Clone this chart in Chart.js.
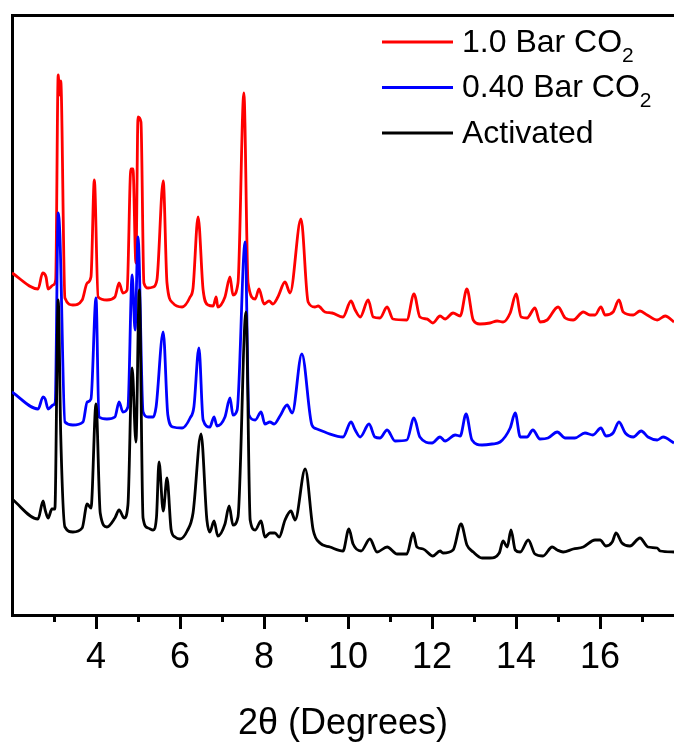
<!DOCTYPE html>
<html>
<head>
<meta charset="utf-8">
<script src="https://cdn.jsdelivr.net/npm/chart.js@4"></script>
<style>
  html, body { margin: 0; padding: 0; background: #fff; overflow: hidden; }
  canvas { display: block; }
</style>
</head>
<body>
<canvas id="xrd" width="674" height="751"></canvas>
<script>
// --- Data (2θ in degrees, intensity in arbitrary units) ---
const twoThetaHigh = [2.00, 2.62, 2.73, 2.81, 2.86, 2.98, 3.04, 3.10, 3.13, 3.16, 3.26, 3.45, 3.67, 3.79, 3.88, 3.96, 4.05, 4.26, 4.45, 4.55, 4.64, 4.74, 4.83, 4.88, 4.95, 5.00, 5.07, 5.14, 5.24, 5.36, 5.45, 5.60, 5.69, 5.83, 6.05, 6.24, 6.31, 6.43, 6.55, 6.67, 6.79, 6.86, 6.90, 7.07, 7.19, 7.26, 7.38, 7.52, 7.62, 7.79, 7.88, 8.00, 8.12, 8.21, 8.33, 8.50, 8.62, 8.88, 9.05, 9.21, 9.29, 9.45, 9.62, 9.88, 10.07, 10.17, 10.29, 10.48, 10.60, 10.76, 10.93, 11.07, 11.40, 11.57, 11.71, 11.88, 12.02, 12.19, 12.31, 12.50, 12.67, 12.83, 12.98, 13.14, 13.38, 13.55, 13.69, 13.86, 14.00, 14.12, 14.26, 14.45, 14.57, 14.74, 15.00, 15.17, 15.36, 15.60, 15.76, 15.88, 16.02, 16.12, 16.31, 16.45, 16.55, 16.79, 16.95, 17.12, 17.36, 17.55, 17.76];
const intensityHigh = [342, 326, 342, 338, 326, 330, 335, 540, 520, 534, 317, 310, 315, 332, 338, 435, 318, 315, 318, 332, 322, 325, 446, 446, 352, 498, 493, 332, 327, 328, 335, 434, 332, 312, 308, 318, 327, 398, 325, 310, 309, 318, 308, 318, 338, 320, 332, 522, 332, 316, 326, 311, 314, 311, 318, 333, 322, 396, 313, 308, 309, 303, 302, 298, 314, 305, 298, 315, 298, 297, 308, 296, 295, 321, 298, 296, 292, 299, 296, 302, 299, 326, 295, 291, 292, 294, 293, 302, 321, 298, 297, 307, 293, 295, 308, 297, 295, 303, 300, 300, 308, 300, 303, 315, 303, 300, 304, 300, 295, 299, 293];

const twoThetaLow = [2.00, 2.62, 2.74, 2.79, 2.86, 2.98, 3.03, 3.10, 3.14, 3.26, 3.45, 3.69, 3.79, 3.88, 4.00, 4.07, 4.26, 4.45, 4.55, 4.64, 4.76, 4.86, 4.93, 5.00, 5.12, 5.24, 5.36, 5.43, 5.60, 5.71, 5.83, 6.05, 6.24, 6.33, 6.45, 6.55, 6.71, 6.81, 6.88, 7.07, 7.19, 7.26, 7.36, 7.55, 7.64, 7.79, 7.93, 8.02, 8.14, 8.24, 8.38, 8.55, 8.67, 8.90, 9.14, 9.26, 9.50, 9.88, 10.07, 10.17, 10.29, 10.50, 10.64, 10.76, 10.93, 11.12, 11.40, 11.57, 11.71, 12.00, 12.19, 12.31, 12.55, 12.67, 12.81, 12.95, 13.19, 13.43, 13.62, 13.86, 13.98, 14.10, 14.26, 14.40, 14.57, 14.76, 14.98, 15.17, 15.40, 15.64, 15.83, 16.02, 16.14, 16.31, 16.45, 16.60, 16.79, 16.98, 17.14, 17.36, 17.50, 17.76];
const intensityLow = [223, 206, 218, 216, 206, 210, 213, 402, 380, 193, 190, 193, 213, 216, 317, 198, 196, 198, 213, 203, 208, 340, 285, 378, 203, 198, 198, 208, 283, 200, 188, 187, 197, 208, 267, 195, 188, 198, 189, 198, 217, 200, 205, 373, 200, 195, 203, 191, 193, 191, 199, 210, 202, 261, 190, 186, 182, 178, 193, 185, 178, 191, 178, 177, 185, 174, 175, 197, 178, 172, 178, 174, 180, 179, 201, 175, 170, 171, 173, 187, 202, 178, 178, 185, 176, 177, 183, 177, 177, 182, 180, 187, 179, 182, 193, 182, 178, 184, 178, 175, 178, 172];

const twoThetaActivated = [2.00, 2.62, 2.74, 2.79, 2.86, 2.95, 3.02, 3.10, 3.16, 3.26, 3.45, 3.67, 3.79, 3.88, 4.00, 4.10, 4.26, 4.45, 4.55, 4.67, 4.76, 4.86, 4.95, 5.03, 5.12, 5.24, 5.36, 5.44, 5.50, 5.60, 5.69, 5.79, 5.88, 6.00, 6.17, 6.31, 6.50, 6.64, 6.71, 6.81, 6.90, 7.07, 7.17, 7.26, 7.38, 7.57, 7.67, 7.79, 7.93, 8.02, 8.14, 8.26, 8.36, 8.50, 8.64, 8.74, 8.98, 9.17, 9.33, 9.57, 9.88, 10.02, 10.12, 10.31, 10.52, 10.69, 10.93, 11.17, 11.40, 11.55, 11.64, 11.79, 12.02, 12.19, 12.26, 12.50, 12.69, 12.83, 12.98, 13.19, 13.38, 13.60, 13.69, 13.79, 13.88, 13.98, 14.10, 14.29, 14.45, 14.64, 14.86, 14.98, 15.12, 15.36, 15.60, 15.88, 16.00, 16.14, 16.29, 16.38, 16.52, 16.71, 16.95, 17.14, 17.36, 17.43, 17.76];
const intensityActivated = [116, 96, 114, 105, 97, 106, 106, 315, 180, 88, 83, 87, 111, 107, 211, 102, 88, 97, 105, 97, 110, 247, 173, 325, 97, 87, 85, 98, 153, 104, 137, 85, 78, 76, 84, 102, 181, 95, 83, 94, 79, 91, 109, 90, 98, 303, 95, 85, 94, 78, 82, 82, 78, 95, 104, 95, 146, 85, 72, 68, 64, 86, 71, 64, 76, 63, 68, 61, 61, 82, 68, 66, 59, 64, 62, 65, 91, 70, 63, 57, 57, 62, 74, 68, 85, 65, 63, 75, 61, 59, 68, 65, 63, 66, 68, 75, 75, 69, 73, 82, 72, 69, 77, 68, 67, 64, 63];

const seriesLabels = ['1.0 Bar CO₂', '0.40 Bar CO₂', 'Activated'];
const seriesColors = ['#ff0000', '#0000ff', '#000000'];

// tick positions on the 2θ axis
const majorTicks = [4, 6, 8, 10, 12, 14, 16];
const minorTicks = [3, 5, 7, 9, 11, 13, 15, 17];

// x range shown (the right side of the frame is cut off in the picture)
const xMin = 2;
const xMax = 17.76;

const FONT = '"Liberation Sans", Arial, Helvetica, sans-serif';

function toPoints(xs, ys) {
    return xs.map((x, i) => ({ x: x, y: ys[i] }));
}

// Legend with subscript drawn on the canvas
const subscriptLegend = {
    id: 'subscriptLegend',
    afterDraw(chart) {
        const ctx = chart.ctx;
        ctx.save();
        chart.data.datasets.forEach((ds, i) => {
            const y = 42 + i * 45.5;
            ctx.strokeStyle = ds.borderColor;
            ctx.lineWidth = 3;
            ctx.beginPath();
            ctx.moveTo(382, y);
            ctx.lineTo(453, y);
            ctx.stroke();

            const parts = ds.label.split('₂');
            ctx.fillStyle = '#000';
            ctx.textBaseline = 'middle';
            ctx.textAlign = 'left';
            ctx.font = '32px ' + FONT;
            ctx.fillText(parts[0], 462, y + 1);
            if (parts.length > 1) {
                const w = ctx.measureText(parts[0]).width;
                ctx.font = '21px ' + FONT;
                ctx.fillText('2', 462 + w, y + 14);
            }
        });
        ctx.restore();
    }
};

const ctx = document.getElementById('xrd').getContext('2d');

new Chart(ctx, {
    type: 'line',
    data: {
        datasets: [
            { label: seriesLabels[0], data: toPoints(twoThetaHigh, intensityHigh), borderColor: seriesColors[0], order: 2 },
            { label: seriesLabels[1], data: toPoints(twoThetaLow, intensityLow), borderColor: seriesColors[1], order: 1 },
            { label: seriesLabels[2], data: toPoints(twoThetaActivated, intensityActivated), borderColor: seriesColors[2], order: 0 }
        ]
    },
    options: {
        responsive: false,
        animation: false,
        devicePixelRatio: 1,
        layout: { padding: { left: 12, top: 15, right: 0, bottom: 0 } },
        elements: {
            point: { radius: 0 },
            line: { borderWidth: 2.8, cubicInterpolationMode: 'monotone', fill: false }
        },
        plugins: {
            legend: { display: false },
            tooltip: { enabled: false }
        },
        scales: {
            x: {
                type: 'linear',
                position: 'bottom',
                weight: 1,
                min: xMin,
                max: xMax,
                afterBuildTicks: s => {
                    s.ticks = majorTicks.map(v => ({ value: v }));
                },
                afterFit: s => { s.height = 136; },
                ticks: {
                    autoSkip: false,
                    maxRotation: 0,
                    padding: 7,
                    color: '#000',
                    font: { family: FONT, size: 36 }
                },
                grid: {
                    drawOnChartArea: false,
                    drawTicks: true,
                    tickLength: 14,
                    tickWidth: 3,
                    tickColor: '#000'
                },
                border: { display: true, color: '#000', width: 3 },
                title: {
                    display: true,
                    text: '2θ (Degrees)',
                    color: '#000',
                    font: { family: FONT, size: 36 },
                    padding: { top: 0, bottom: 5 }
                }
            },
            xMinor: {
                type: 'linear',
                position: 'bottom',
                weight: 0,
                min: xMin,
                max: xMax,
                afterBuildTicks: s => {
                    s.ticks = minorTicks.map(v => ({ value: v }));
                },
                afterFit: s => { s.height = 0; },
                ticks: { autoSkip: false, callback: () => '' },
                grid: {
                    drawOnChartArea: false,
                    drawTicks: true,
                    tickLength: 7,
                    tickWidth: 3,
                    tickColor: '#000'
                },
                border: { display: false }
            },
            xTop: {
                type: 'linear',
                position: 'top',
                min: xMin,
                max: xMax,
                afterFit: s => { s.height = 0; },
                ticks: { display: false },
                grid: { drawOnChartArea: false, drawTicks: false },
                border: { display: true, color: '#000', width: 3 }
            },
            y: {
                type: 'linear',
                position: 'left',
                min: 0,
                max: 600,
                afterFit: s => { s.width = 0; },
                ticks: { display: false },
                grid: { drawOnChartArea: false, drawTicks: false },
                border: { display: true, color: '#000', width: 3 }
            }
        }
    },
    plugins: [subscriptLegend]
});
</script>
</body>
</html>
